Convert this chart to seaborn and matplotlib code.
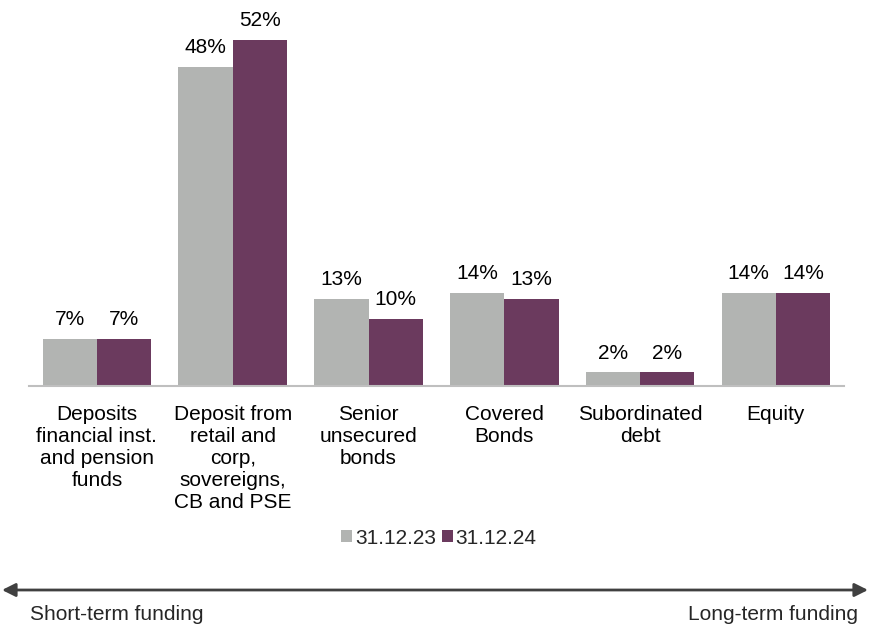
import pandas as pd
import numpy as np
import matplotlib.pyplot as plt
import seaborn as sns

# data
categories = ['Deposits\nfinancial inst.\nand pension\nfunds',
              'Deposit from\nretail and\ncorp,\nsovereigns,\nCB and PSE',
              'Senior\nunsecured\nbonds',
              'Covered\nBonds',
              'Subordinated\ndebt',
              'Equity']
share_2023 = [7, 48, 13, 14, 2, 14]
share_2024 = [7, 52, 10, 13, 2, 14]
periods = ['31.12.23', '31.12.24']

df = pd.DataFrame({
    'category': categories * 2,
    'share': share_2023 + share_2024,
    'period': [periods[0]] * len(categories) + [periods[1]] * len(categories),
})

sns.set_theme(style='white')
plt.rcParams['font.family'] = ['Liberation Sans', 'DejaVu Sans']
FS = 15

fig = plt.figure(figsize=(8.69, 6.29), dpi=100)
ax = fig.add_axes([0.0334, 0.387, 0.9376, 0.581])

palette = {'31.12.23': '#B2B4B2', '31.12.24': '#6B3A5E'}
sns.barplot(data=df, x='category', y='share', hue='period', palette=palette,
            width=0.8, saturation=1, linewidth=0, ax=ax, legend=True)

for cont in ax.containers:
    ax.bar_label(cont, labels=[f'{v:.0f}%' for v in cont.datavalues],
                 padding=7, fontsize=FS, color='black')

ax.set_ylim(0, 55)
ax.set_xlim(-0.5, 5.5)
ax.set_xlabel('')
ax.set_ylabel('')
ax.set_yticks([])
for s in ['top', 'right', 'left']:
    ax.spines[s].set_visible(False)
ax.spines['bottom'].set_color('#BFBFBF')
ax.spines['bottom'].set_linewidth(1.5)
ax.tick_params(axis='x', length=0, pad=14)
for t in ax.get_xticklabels():
    t.set_fontsize(FS)
    t.set_linespacing(1.2)
    t.set_verticalalignment('top')
    t.set_color('black')

ax.legend(loc='center', bbox_to_anchor=(439 / 869, 1 - 538 / 629),
          bbox_transform=fig.transFigure, ncol=2, frameon=False,
          fontsize=FS, handlelength=0.5, handleheight=0.5,
          handletextpad=0.15, columnspacing=0.3)

# funding horizon arrow
ax.annotate('', xy=(868, 629 - 590), xytext=(2, 629 - 590),
            xycoords='figure pixels', textcoords='figure pixels',
            arrowprops=dict(arrowstyle='<|-|>', color='#404040', lw=2,
                            mutation_scale=20, shrinkA=0, shrinkB=0))
fig.text(30 / 869, 1 - 614 / 629, 'Short-term funding', fontsize=FS,
         ha='left', va='center')
fig.text(858 / 869, 1 - 614 / 629, 'Long-term funding', fontsize=FS,
         ha='right', va='center')

fig.savefig('out.png', dpi=100)
